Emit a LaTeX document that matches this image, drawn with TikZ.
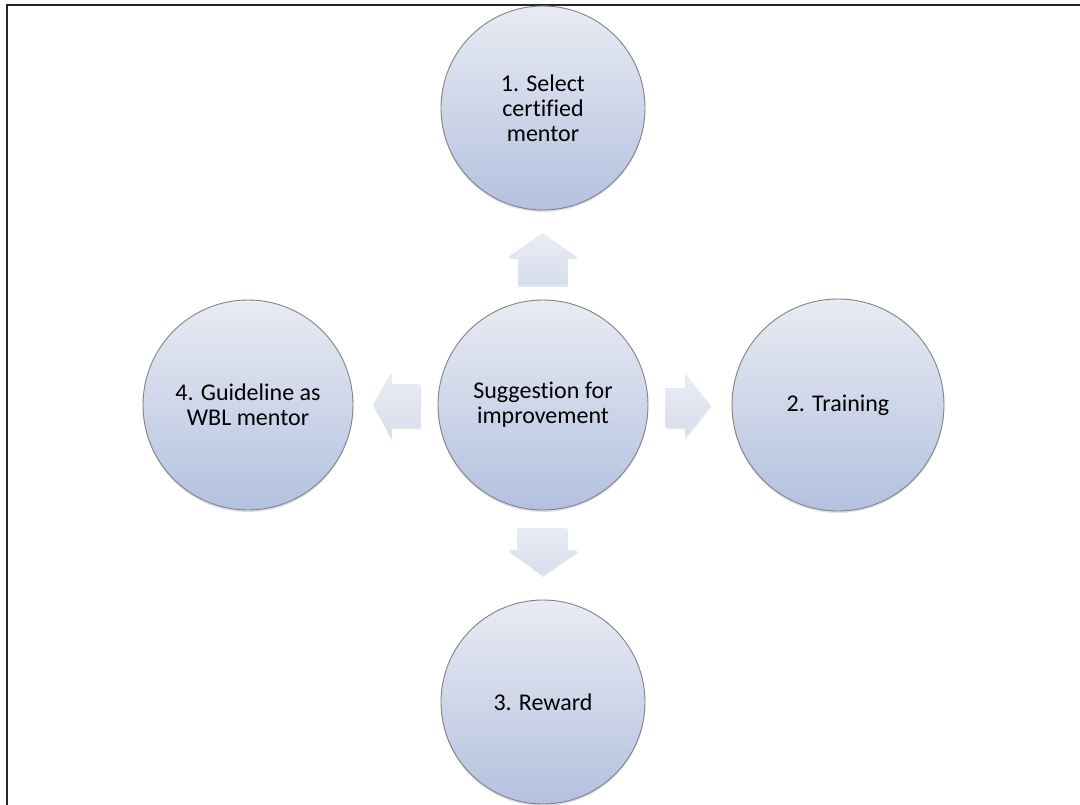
\documentclass[tikz,border=0pt]{standalone}
\usepackage{fontspec}
\setmainfont[Ligatures=NoCommon]{Carlito}
\usetikzlibrary{shadows}
\definecolor{ctop}{RGB}{232,235,243}
\definecolor{cbot}{RGB}{180,193,223}
\definecolor{atop}{RGB}{234,237,244}
\definecolor{abot}{RGB}{214,221,236}
\definecolor{cedge}{RGB}{130,130,130}
\tikzset{
  bubble/.style={circle, draw=cedge, line width=0.9pt, top color=ctop, bottom color=cbot,
    drop shadow={opacity=0.25, shadow xshift=0pt, shadow yshift=-2pt},
    align=center, font=\fontsize{24}{25}\selectfont, inner sep=0pt},
  blockarrow/.style={top color=atop, bottom color=abot, draw=none,
    drop shadow={opacity=0.2, shadow xshift=1pt, shadow yshift=-2pt}},
  frameline/.style={line width=2pt, draw=black!85}
}
\begin{document}
\begin{tikzpicture}[x=1pt,y=-1pt]
\useasboundingbox (0,0) rectangle (1080,805);
\draw[frameline] (1080,5) -- (7,5) -- (7,805);
% arrows
\path[blockarrow] (542.5,233) -- (577,257) -- (567,257) -- (567,285) -- (518,285) -- (518,257) -- (508,257) -- cycle;
\path[blockarrow] (542.5,575) -- (578,550) -- (567,550) -- (567,528) -- (517,528) -- (517,550) -- (508,550) -- cycle;
\path[blockarrow] (710,405) -- (685,373) -- (685,388) -- (665,388) -- (665,427) -- (685,427) -- (685,437) -- cycle;
\path[blockarrow] (373,405) -- (391,372) -- (391,384) -- (420,384) -- (420,427) -- (391,427) -- (391,438) -- cycle;
% circles
\node[bubble, minimum size=204pt] (sel) at (543,108) {1. Select\\certified\\mentor};
\node[bubble, minimum size=210pt] (sug) at (543,405) {Suggestion for\\improvement};
\node[bubble, minimum size=212pt] (tra) at (838,405) {2. Training};
\node[bubble, minimum size=210pt] (gui) at (248,405) {4. Guideline as\\WBL mentor};
\node[bubble, minimum size=204pt] (rew) at (543,702) {3. Reward};
\end{tikzpicture}
\end{document}
